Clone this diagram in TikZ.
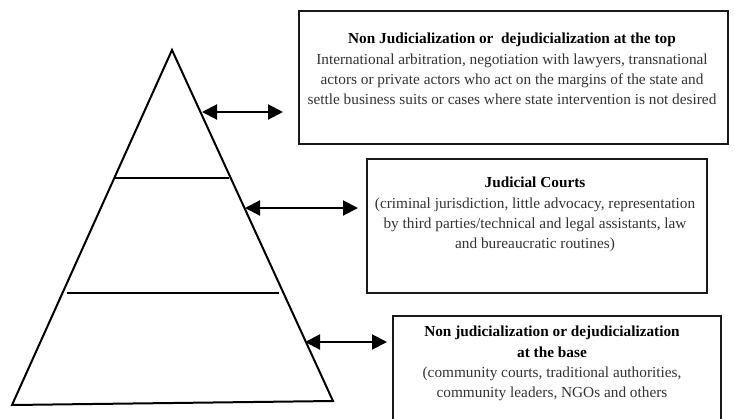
\documentclass[tikz,border=0pt]{standalone}
\usepackage{fontspec}
\setmainfont{Liberation Serif}
\usetikzlibrary{arrows.meta}
\tikzset{
  frame/.style={draw=black!90, line width=2pt, inner sep=0pt},
  txt/.style={align=center, inner sep=0pt, text=black!80, font=\fontsize{15.3}{20.3}\selectfont},
  twoway/.style={line width=2pt, {Triangle[length=15pt,width=15pt]}-{Triangle[length=15pt,width=15pt]}},
  shape line/.style={line width=2pt, line join=miter}
}
\begin{document}
\begin{tikzpicture}[x=1pt,y=-1pt]
\useasboundingbox (0,0) rectangle (734,418);
\begin{scope}
\clip (0,0) rectangle (734,418);
% pyramid
\coordinate (apex) at (172,50);
\coordinate (bl) at (12,405);
\coordinate (br) at (333,401);
\draw[shape line] (apex) -- (br) -- (bl) -- cycle;
\coordinate (l1a) at (115,178); \coordinate (l1b) at (229,178);
\coordinate (l2a) at (67,293);  \coordinate (l2b) at (279,293);
\draw[shape line] (l1a) -- (l1b);
\draw[shape line] (l2a) -- (l2b);
% boxes
\node[frame, minimum width=429pt, minimum height=133pt, anchor=north west] (topbox) at (298,10) {};
\node[frame, minimum width=340pt, minimum height=134pt, anchor=north west] (midbox) at (366,158) {};
\node[frame, minimum width=328pt, minimum height=130pt, anchor=north west] (botbox) at (392,315) {};
% texts
\node[txt] (toptext) at (512,69) {\textcolor{black}{\textbf{Non Judicialization or\ \ dejudicialization at the top}}\\
International arbitration, negotiation with lawyers, transnational\\
actors or private actors who act on the margins of the state and\\
settle business suits or cases where state intervention is not desired};
\node[txt] (midtext) at (535,214.5) {\textcolor{black}{\textbf{Judicial Courts}}\\
(criminal jurisdiction, little advocacy, representation\\
by third parties/technical and legal assistants, law\\
and bureaucratic routines)};
\node[txt] (bottext) at (552,363.5) {\textcolor{black}{\textbf{Non judicialization or dejudicialization}}\\
\textcolor{black}{\textbf{at the base}}\\
(community courts, traditional authorities,\\
community leaders, NGOs and others};
% arrows
\coordinate (s1) at (202,112);
\coordinate (s2) at (245,208);
\coordinate (s3) at (305,342);
\draw[twoway, shorten >=15pt] (s1) -- (topbox.west |- s1);
\draw[twoway, shorten >=8pt] (s2) -- (midbox.west |- s2);
\draw[twoway, shorten >=5pt] (s3) -- (botbox.west |- s3);
\end{scope}
\end{tikzpicture}
\end{document}
